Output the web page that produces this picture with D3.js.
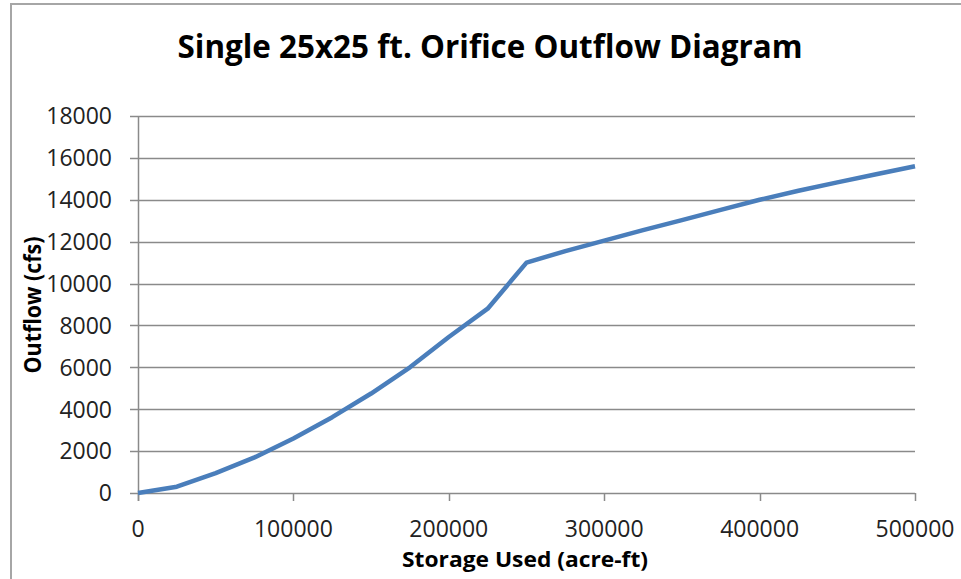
<!DOCTYPE html>
<html>
<head>
<meta charset="utf-8">
<script src="https://cdn.jsdelivr.net/npm/d3@7"></script>
<style>
  html, body { margin: 0; padding: 0; background: #fff; }
  svg { display: block; }
</style>
</head>
<body>
<svg id="chart" width="961" height="579"></svg>
<script>
// ---- data ----
const storage = [0, 25000, 50000, 75000, 100000, 125000, 150000, 175000, 200000, 225000,
                 250000, 275000, 300000, 325000, 350000, 375000, 400000, 425000, 450000, 475000, 500000];
const outflow = [0, 300, 950, 1700, 2600, 3620, 4750, 6000, 7450, 8800,
                 11000, 11550, 12050, 12550, 13030, 13520, 14000, 14430, 14830, 15220, 15600];
const xTicks = [0, 100000, 200000, 300000, 400000, 500000];
const yTicks = [0, 2000, 4000, 6000, 8000, 10000, 12000, 14000, 16000, 18000];
const titleText = "Single 25x25 ft. Orifice Outflow Diagram";
const xTitle = "Storage Used (acre-ft)";
const yTitle = "Outflow (cfs)";

const svg = d3.select("#chart");
const plotL = 138, plotR = 915, plotT = 116, plotB = 493;

const x = d3.scaleLinear().domain([0, 500000]).range([plotL, plotR]);
const y = d3.scaleLinear().domain([0, 18000]).range([plotB, plotT]);

// outer border
svg.append("rect")
  .attr("x", 11).attr("y", 4).attr("width", 980).attr("height", 600)
  .attr("fill", "#fff").attr("stroke", "#a6a6a6").attr("stroke-width", 2);

const font = "'Open Sans', 'Noto Sans', sans-serif";

// title
svg.append("text")
  .attr("x", 490).attr("y", 58)
  .attr("text-anchor", "middle")
  .attr("font-family", font).attr("font-weight", "bold").attr("font-size", 33)
  .attr("fill", "#000")
  .attr("textLength", 625).attr("lengthAdjust", "spacingAndGlyphs")
  .text(titleText);

// gridlines
svg.append("g").selectAll("line").data(yTicks).join("line")
  .attr("x1", plotL - 8).attr("x2", plotR)
  .attr("y1", d => Math.round(y(d)) + 0.5).attr("y2", d => Math.round(y(d)) + 0.5)
  .attr("stroke", "#8a8a8a").attr("stroke-width", 1.5);

// y axis line
svg.append("line")
  .attr("x1", plotL + 0.5).attr("x2", plotL + 0.5)
  .attr("y1", y(18000)).attr("y2", plotB + 8)
  .attr("stroke", "#8a8a8a").attr("stroke-width", 1.5);

// x ticks
svg.append("g").selectAll("line").data(xTicks).join("line")
  .attr("x1", d => Math.round(x(d)) + 0.5).attr("x2", d => Math.round(x(d)) + 0.5)
  .attr("y1", plotB).attr("y2", plotB + 8)
  .attr("stroke", "#8a8a8a").attr("stroke-width", 1.5);

// y tick labels
svg.append("g").selectAll("text").data(yTicks).join("text")
  .attr("x", 112).attr("y", d => y(d))
  .attr("dy", "0.36em")
  .attr("text-anchor", "end")
  .attr("font-family", font).attr("font-size", 23)
  .attr("fill", "#222")
  .text(d => d);

// x tick labels
svg.append("g").selectAll("text").data(xTicks).join("text")
  .attr("x", d => x(d)).attr("y", 537)
  .attr("text-anchor", "middle")
  .attr("font-family", font).attr("font-size", 23)
  .attr("fill", "#222")
  .text(d => d);

// axis titles
svg.append("text")
  .attr("x", 525).attr("y", 567)
  .attr("text-anchor", "middle")
  .attr("font-family", font).attr("font-weight", "bold").attr("font-size", 21)
  .attr("fill", "#000")
  .attr("textLength", 246).attr("lengthAdjust", "spacingAndGlyphs")
  .text(xTitle);

svg.append("text")
  .attr("transform", "translate(41,305) rotate(-90)")
  .attr("text-anchor", "middle")
  .attr("font-family", font).attr("font-weight", "bold").attr("font-size", 23)
  .attr("fill", "#000")
  .attr("textLength", 137).attr("lengthAdjust", "spacingAndGlyphs")
  .text(yTitle);

// line
const pts = storage.map((s, i) => [s, outflow[i]]);
svg.append("path")
  .datum(pts)
  .attr("fill", "none")
  .attr("stroke", "#4a7ebb")
  .attr("stroke-width", 4.5)
  .attr("stroke-linejoin", "round")
  .attr("d", d3.line().x(d => x(d[0])).y(d => y(d[1])));
</script>
</body>
</html>
